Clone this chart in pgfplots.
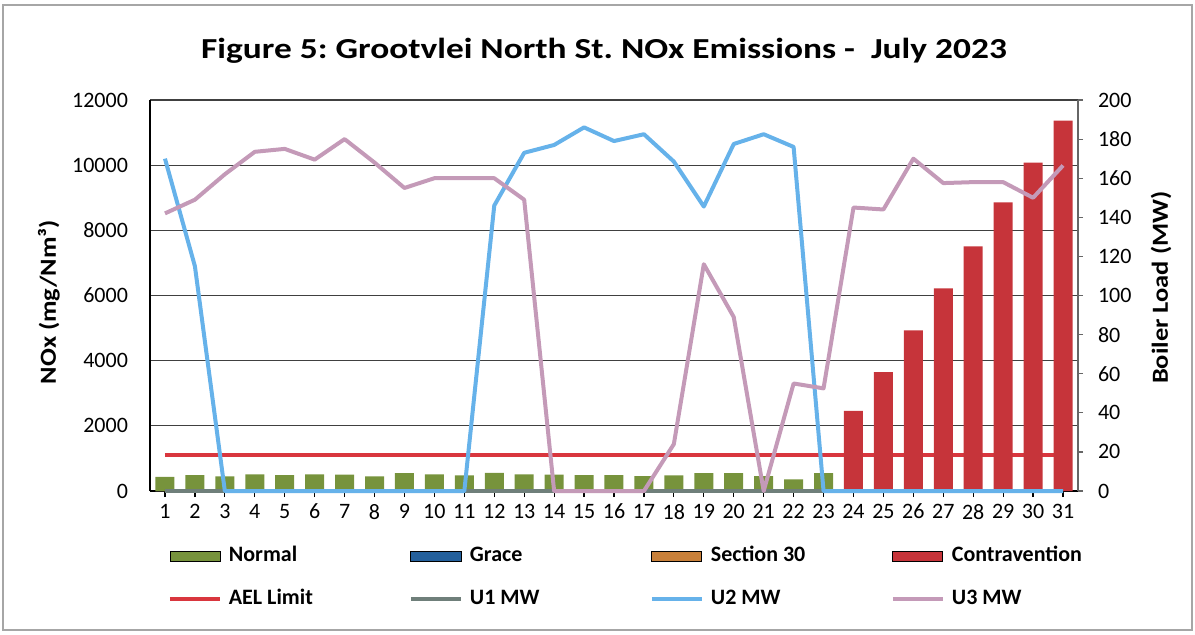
\documentclass[border=0pt]{standalone}
\usepackage{pgfplots}
\pgfplotsset{compat=1.18}
\usepackage{fontspec}
\setmainfont{Carlito}
\newfontfamily\widefont{Carlito}[FakeStretch=1.22]
\newfontfamily\labelfont{Carlito}[FakeStretch=1.15]
\frenchspacing

\definecolor{normalc}{HTML}{77933C}
\definecolor{gracec}{HTML}{24609C}
\definecolor{sect}{HTML}{C8803A}
\definecolor{contra}{HTML}{C6343A}
\definecolor{ael}{HTML}{D9363E}
\definecolor{uone}{HTML}{6F7F7A}
\definecolor{utwo}{HTML}{66B2EA}
\definecolor{uthree}{HTML}{C49AB8}

\newcommand{\ticksize}{\fontsize{11}{13}\selectfont}
\newcommand{\entry}[1]{\makebox[80pt][l]{#1}}

\pgfplotsset{
  barkey/.style={legend image code/.code={\fill[##1] (0pt,-2.5pt) rectangle (25pt,2.5pt);}},
  linekey/.style={legend image code/.code={\draw[##1, line width=2pt] (0pt,0pt) -- (25pt,0pt);}},
}

\begin{document}
\begin{tikzpicture}
\useasboundingbox (-75pt,-71.5pt) rectangle (522.5pt,245.5pt);
\draw[gray!70, line width=1.2pt] (-73.5pt,-69.5pt) rectangle (521pt,243pt);

% Title
\node[font=\widefont\bfseries\fontsize{14.5}{17}\selectfont, anchor=base] at (227pt,216.3pt)
  {Figure 5: Grootvlei North St. NOx Emissions - \ July 2023};

% NOx concentration (left axis)
\begin{axis}[
  scale only axis, width=464pt, height=195.5pt,
  xmin=0.5, xmax=31.5, ymin=0, ymax=12000,
  axis x line*=bottom, axis y line*=left,
  x axis line style={-, black, line width=0.6pt},
  y axis line style={-, black, line width=0.6pt},
  xtick={1,...,31}, ytick={0,2000,...,12000},
  scaled y ticks=false,
  yticklabel style={/pgf/number format/1000 sep={}, /pgf/number format/assume math mode=true, xshift=-4.5pt},
  xticklabel style={/pgf/number format/assume math mode=true},
  tick label style={font=\ticksize},
  tick align=outside, major tick length=3pt,
  xtick style={black, line width=0.6pt},
  ytick style={draw=none},
  ymajorgrids, grid style={black!75, line width=0.6pt},
  ybar, bar width=9.5pt, bar shift=0pt,
  ylabel={NOx (mg/Nm³)},
  ylabel style={font=\labelfont\bfseries\fontsize{11.5}{13}\selectfont, at={(axis description cs:-0.109,0.483)}, anchor=center},
]
% AEL limit
\addplot[sharp plot, ael, line width=2pt] coordinates {(1,1100) (31,1100)};
% Normal
\addplot[fill=normalc, draw=none] coordinates {
  (1,430) (2,490) (3,450) (4,510) (5,490) (6,510) (7,500) (8,450)
  (9,550) (10,510) (11,480) (12,560) (13,510) (14,500) (15,490) (16,490)
  (17,460) (18,480) (19,550) (20,550) (21,460) (22,360) (23,550)};
% Grace
\addplot[fill=gracec, draw=none] coordinates {(1,0)};
% Section 30
\addplot[fill=sect, draw=none] coordinates {(1,0)};
% Contravention
\addplot[fill=contra, draw=none] coordinates {
  (24,2460) (25,3650) (26,4930) (27,6220) (28,7510) (29,8860) (30,10080) (31,11370)};
\end{axis}

% Boiler load (right axis)
\begin{axis}[
  scale only axis, width=464pt, height=195.5pt,
  xmin=0.5, xmax=31.5, ymin=0, ymax=200,
  axis x line=none, axis y line*=right,
  y axis line style={-, black!60, line width=0.6pt},
  ytick={0,20,...,200},
  tick label style={font=\ticksize},
  yticklabel style={/pgf/number format/assume math mode=true, xshift=4pt},
  tick align=outside, major tick length=2.5pt,
  ytick style={black!60, line width=0.6pt},
  clip=false,
  ylabel={Boiler Load (MW)},
  ylabel style={font=\labelfont\bfseries\fontsize{11.5}{13}\selectfont, at={(axis description cs:1.0894,0.52)}, anchor=center, rotate=0},
  legend columns=4,
  legend cell align=left,
  legend style={at={(axis description cs:0,0)}, anchor=north west,
    xshift=8.75pt, yshift=-27.25pt, draw=none, fill=none, inner sep=0pt,
    row sep=11pt, font=\bfseries\ticksize,
    nodes={inner xsep=0pt, inner ysep=0pt, text height=8pt, text depth=2.5pt},
    /tikz/every odd column/.append style={column sep=3.5pt},
    /tikz/every even column/.append style={column sep=10pt}},
]
\addlegendimage{barkey, fill=normalc}
\addlegendentry{\entry{Normal}}
\addlegendimage{barkey, fill=gracec}
\addlegendentry{\entry{Grace}}
\addlegendimage{barkey, fill=sect}
\addlegendentry{\entry{Section 30}}
\addlegendimage{barkey, fill=contra}
\addlegendentry{\entry{Contravention}}
\addlegendimage{linekey, ael}
\addlegendentry{\entry{AEL Limit}}

\addplot[uone, line width=2pt, line join=round, linekey] coordinates {
  (1,0) (2,0) (3,0) (4,0) (5,0) (6,0) (7,0) (8,0) (9,0) (10,0) (11,0)
  (12,0) (13,0) (14,0) (15,0) (16,0) (17,0) (18,0) (19,0) (20,0) (21,0)
  (22,0) (23,0) (24,0) (25,0) (26,0) (27,0) (28,0) (29,0) (30,0) (31,0)};
\addlegendentry{\entry{U1 MW}}
\addplot[utwo, line width=2pt, line join=round, linekey] coordinates {
  (1,170) (2,115) (3,0) (4,0) (5,0) (6,0) (7,0) (8,0) (9,0) (10,0) (11,0)
  (12,146) (13,173) (14,177) (15,186) (16,179) (17,182.5) (18,168.5)
  (19,145.5) (20,177.5) (21,182.5) (22,176) (23,0) (24,0) (25,0) (26,0)
  (27,0) (28,0) (29,0) (30,0) (31,0)};
\addlegendentry{\entry{U2 MW}}
\addplot[uthree, line width=2pt, line join=round, linekey] coordinates {
  (1,142) (2,149) (3,162) (4,173.5) (5,175) (6,169.5) (7,180) (8,168)
  (9,155) (10,160) (11,160) (12,160) (13,149) (14,0) (15,0) (16,0) (17,0)
  (18,24) (19,116) (20,89) (21,0) (22,55) (23,52.5) (24,145) (25,144)
  (26,170) (27,157.5) (28,158) (29,158) (30,150) (31,166.5)};
\addlegendentry{\entry{U3 MW}}
\end{axis}
\end{tikzpicture}
\end{document}
